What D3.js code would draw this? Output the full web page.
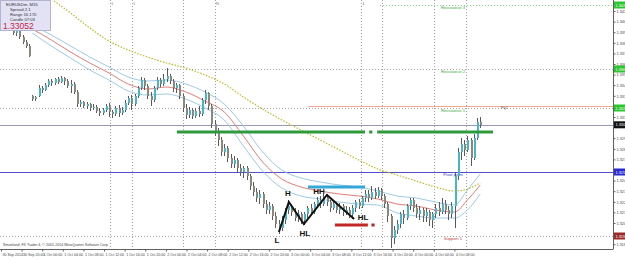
<!DOCTYPE html>
<html>
<head>
<meta charset="utf-8">
<script src="https://cdn.jsdelivr.net/npm/d3@7"></script>
<style>
  body { margin: 0; background: #fff; }
  svg { display: block; font-family: "Liberation Sans", Arial, sans-serif; }
</style>
</head>
<body>
<svg id="chart" width="625" height="260"></svg>
<script>
// EURUSD candles, one per bar
const opens = [
  1.3400,1.3397,1.3399,1.3393,1.3388,1.3384,1.3334,1.3331,1.3334,1.3342,
  1.3340,1.3345,1.3349,1.3347,1.3351,1.3348,1.3352,1.3349,1.3344,1.3346,
  1.3338,1.3326,1.3328,1.3324,1.3326,1.3322,1.3323,1.3319,1.3317,1.3320,
  1.3324,1.3318,1.3316,1.3322,1.3317,1.3320,1.3327,1.3332,1.3326,1.3334,
  1.3342,1.3350,1.3344,1.3334,1.3330,1.3342,1.3350,1.3346,1.3351,1.3354,
  1.3349,1.3342,1.3345,1.3334,1.3322,1.3315,1.3320,1.3314,1.3319,1.3316,
  1.3330,1.3337,1.3324,1.3306,1.3298,1.3290,1.3278,1.3282,1.3272,1.3266,
  1.3270,1.3262,1.3258,1.3262,1.3254,1.3244,1.3238,1.3232,1.3236,1.3226,
  1.3220,1.3224,1.3214,1.3206,1.3202,1.3210,1.3220,1.3224,1.3218,1.3212,
  1.3216,1.3210,1.3216,1.3222,1.3218,1.3226,1.3230,1.3226,1.3232,1.3228,
  1.3222,1.3226,1.3220,1.3224,1.3218,1.3220,1.3216,1.3222,1.3228,1.3224,
  1.3232,1.3236,1.3232,1.3238,1.3234,1.3240,1.3234,1.3226,1.3214,1.3192,
  1.3200,1.3206,1.3216,1.3212,1.3224,1.3230,1.3222,1.3216,1.3220,1.3214,
  1.3218,1.3210,1.3216,1.3222,1.3218,1.3226,1.3220,1.3216,1.3224,1.3254,
  1.3278,1.3286,1.3280,1.3290,1.3272,1.3292,1.3308
];
const highs = [
  1.3402,1.3400,1.3400,1.3395,1.3390,1.3386,1.3335,1.3334,1.3345,1.3344,
  1.3347,1.3351,1.3351,1.3352,1.3353,1.3354,1.3353,1.3351,1.3350,1.3348,
  1.3340,1.3330,1.3329,1.3328,1.3327,1.3326,1.3325,1.3322,1.3322,1.3326,
  1.3327,1.3320,1.3324,1.3325,1.3323,1.3330,1.3334,1.3335,1.3336,1.3344,
  1.3353,1.3352,1.3346,1.3338,1.3344,1.3353,1.3352,1.3356,1.3362,1.3356,
  1.3351,1.3347,1.3346,1.3336,1.3326,1.3323,1.3322,1.3322,1.3324,1.3332,
  1.3340,1.3338,1.3326,1.3310,1.3302,1.3293,1.3286,1.3284,1.3276,1.3274,
  1.3272,1.3266,1.3264,1.3264,1.3256,1.3248,1.3242,1.3240,1.3238,1.3230,
  1.3228,1.3226,1.3218,1.3210,1.3214,1.3222,1.3230,1.3226,1.3222,1.3220,
  1.3218,1.3218,1.3224,1.3226,1.3228,1.3233,1.3234,1.3236,1.3236,1.3230,
  1.3229,1.3228,1.3227,1.3226,1.3224,1.3223,1.3225,1.3230,1.3231,1.3234,
  1.3240,1.3240,1.3244,1.3242,1.3243,1.3242,1.3236,1.3228,1.3216,1.3204,
  1.3210,1.3218,1.3220,1.3226,1.3232,1.3232,1.3226,1.3224,1.3222,1.3222,
  1.3220,1.3218,1.3226,1.3228,1.3232,1.3230,1.3224,1.3228,1.3258,1.3282,
  1.3292,1.3290,1.3294,1.3292,1.3296,1.3312,1.3313
];
const lows = [
  1.3395,1.3394,1.3391,1.3386,1.3382,1.3373,1.3329,1.3329,1.3333,1.3337,
  1.3339,1.3343,1.3344,1.3345,1.3346,1.3347,1.3345,1.3342,1.3337,1.3336,
  1.3323,1.3323,1.3322,1.3321,1.3319,1.3320,1.3317,1.3314,1.3315,1.3318,
  1.3313,1.3312,1.3314,1.3313,1.3315,1.3318,1.3325,1.3320,1.3324,1.3332,
  1.3340,1.3340,1.3331,1.3324,1.3328,1.3340,1.3343,1.3344,1.3348,1.3346,
  1.3338,1.3337,1.3331,1.3318,1.3311,1.3312,1.3311,1.3312,1.3313,1.3314,
  1.3326,1.3320,1.3302,1.3294,1.3284,1.3274,1.3274,1.3268,1.3262,1.3262,
  1.3258,1.3254,1.3252,1.3250,1.3240,1.3234,1.3228,1.3226,1.3222,1.3216,
  1.3216,1.3210,1.3202,1.3196,1.3199,1.3206,1.3216,1.3214,1.3209,1.3208,
  1.3206,1.3205,1.3212,1.3215,1.3216,1.3222,1.3222,1.3224,1.3224,1.3218,
  1.3220,1.3217,1.3216,1.3214,1.3215,1.3212,1.3211,1.3218,1.3221,1.3222,
  1.3228,1.3228,1.3230,1.3231,1.3232,1.3230,1.3222,1.3208,1.3182,1.3186,
  1.3196,1.3202,1.3206,1.3210,1.3220,1.3218,1.3212,1.3210,1.3208,1.3208,
  1.3204,1.3202,1.3212,1.3214,1.3216,1.3216,1.3210,1.3212,1.3202,1.3250,
  1.3270,1.3274,1.3278,1.3264,1.3270,1.3290,1.3302
];
const closes = [
  1.3397,1.3399,1.3393,1.3388,1.3384,1.3374,1.3331,1.3333,1.3342,1.3340,
  1.3345,1.3349,1.3347,1.3351,1.3348,1.3352,1.3349,1.3344,1.3346,1.3338,
  1.3326,1.3328,1.3324,1.3326,1.3322,1.3323,1.3319,1.3317,1.3320,1.3324,
  1.3318,1.3316,1.3322,1.3317,1.3320,1.3327,1.3332,1.3326,1.3334,1.3342,
  1.3350,1.3344,1.3334,1.3330,1.3342,1.3350,1.3346,1.3351,1.3354,1.3349,
  1.3342,1.3345,1.3334,1.3322,1.3315,1.3320,1.3314,1.3319,1.3316,1.3330,
  1.3337,1.3324,1.3306,1.3298,1.3290,1.3278,1.3282,1.3272,1.3266,1.3270,
  1.3262,1.3258,1.3262,1.3254,1.3244,1.3238,1.3232,1.3236,1.3226,1.3220,
  1.3224,1.3214,1.3206,1.3202,1.3210,1.3220,1.3224,1.3218,1.3212,1.3216,
  1.3210,1.3216,1.3222,1.3218,1.3226,1.3230,1.3226,1.3232,1.3228,1.3222,
  1.3226,1.3220,1.3224,1.3218,1.3220,1.3216,1.3222,1.3228,1.3224,1.3232,
  1.3236,1.3232,1.3238,1.3234,1.3240,1.3234,1.3226,1.3214,1.3192,1.3200,
  1.3206,1.3216,1.3212,1.3224,1.3230,1.3222,1.3216,1.3220,1.3214,1.3218,
  1.3210,1.3216,1.3222,1.3218,1.3226,1.3220,1.3216,1.3224,1.3254,1.3278,
  1.3286,1.3280,1.3290,1.3272,1.3292,1.3308,1.33052
];

// envelope (upper / middle / lower) and slow MA, sampled at bar indices
const maIdx = [6,12,18,24,30,36,42,48,54,60,66,72,78,84,90,96,102,108,114,120,126,132,138,142,146];
const bandUpper = [1.3405,1.3395,1.3384,1.3373,1.3363,1.3353,1.3349,1.3350,1.3346,1.3338,1.3326,1.3304,1.3278,
  1.3260,1.3252,1.3248,1.3245,1.3243,1.3239,1.3234,1.3232,1.3228,1.3225,1.3240,1.3256];
const bandMid = [1.3401,1.3390,1.3378,1.3367,1.3357,1.3346,1.3341,1.3343,1.3338,1.3329,1.3318,1.3294,1.3268,
  1.3251,1.3243,1.3239,1.3236,1.3234,1.3231,1.3226,1.3224,1.3220,1.3218,1.3230,1.3245];
const bandLower = [1.3397,1.3384,1.3372,1.3360,1.3350,1.3339,1.3335,1.3336,1.3331,1.3322,1.3310,1.3284,1.3259,
  1.3242,1.3234,1.3231,1.3228,1.3226,1.3225,1.3217,1.3214,1.3212,1.3212,1.3220,1.3236];
const slowMa = [1.3445,1.3431,1.3417,1.3402,1.3389,1.3380,1.3373,1.3367,1.3362,1.3355,1.3346,1.3333,1.3321,
  1.3310,1.3300,1.3290,1.3280,1.3270,1.3261,1.3255,1.3249,1.3243,1.3239,1.3241,1.3247];

// price scale labels (those hidden under the coloured tags are left out)
const priceTicks = [1.34190,1.34084,1.33978,1.33872,1.33766,1.33660,1.33554,1.33448,1.33342,1.33236,1.33130,
  1.32918,1.32812,1.32706,1.32494,1.32388,1.32282,1.32176,1.32070,1.31858];
const timeLabels = ["30 Sep 2014","30 Sep 20:00","1 Oct 00:00","1 Oct 04:00","1 Oct 08:00","1 Oct 12:00",
  "1 Oct 16:00","1 Oct 20:00","2 Oct 00:00","2 Oct 04:00","2 Oct 08:00","2 Oct 12:00","2 Oct 16:00",
  "2 Oct 20:00","3 Oct 00:00","3 Oct 04:00","3 Oct 08:00","3 Oct 12:00","3 Oct 16:00","3 Oct 20:00",
  "4 Oct 00:00","4 Oct 04:00","4 Oct 08:00"];

// pivot levels of the day
const pivotNames = ["Resistance 3","Resistance 2","Resistance 1","Pivot point","Support 1"];
const pivotPrices = [1.3425,1.3361,1.3322,1.3258,1.3194];
const bidPrice = 1.33052;
const fiboPrice = 1.3324;

// separators (bar index) and their captions
const sepIdx = [30.3,37.2,53.1,63.1,108.8,115.3,131.6,141.6];
const sepCaptions = ["1","1","","N","1","","",""];

// hand-drawn swing structure
const swingIdx = [83.1,86.2,90.9,98.1,106.6];
const swingPrice = [1.3198,1.3228,1.3206,1.3235,1.3211];
const swingText = ["L","H","HL","HH","HL"];

// drawn level segments [fromIdx, toIdx, price]
const greenLevels = [[51.2,110,1.3298],[111.3,112.3,1.3298],[113.8,150,1.3298]];
const blueLevels = [[92.2,110,1.3243]];
const redLevels = [[100.6,110.9,1.3205],[112,113,1.3205]];

const width = 613, height = 249;
const svg = d3.select("#chart");

const x = d3.scaleLinear().domain([0, 146]).range([13, 480.2]);
const y = d3.scaleLinear().domain([1.3430, 1.3181]).range([0, height]);

svg.append("defs").append("clipPath").attr("id", "clip")
  .append("rect").attr("width", width).attr("height", height);
const plot = svg.append("g").attr("clip-path", "url(#clip)");

// vertical separators
plot.selectAll(".sep").data(sepIdx).enter().append("line")
  .attr("x1", d => Math.round(x(d)) + 0.5).attr("x2", d => Math.round(x(d)) + 0.5)
  .attr("y1", 0).attr("y2", height)
  .attr("stroke", "#a0a0a0").attr("stroke-dasharray", "1,2");
plot.selectAll(".cap").data(sepIdx).enter().append("text")
  .attr("x", d => x(d) + 1).attr("y", 5)
  .attr("font-size", 4).attr("fill", "#777")
  .text((d, i) => sepCaptions[i]);

// full width pivot grid (dotted)
[1, 2, 4].forEach(function(k) {
  plot.append("line")
    .attr("x1", 0).attr("x2", width)
    .attr("y1", Math.round(y(pivotPrices[k])) + 0.5).attr("y2", Math.round(y(pivotPrices[k])) + 0.5)
    .attr("stroke", "#a8a8a8").attr("stroke-dasharray", "1,2");
});
// R3 only for today
plot.append("line")
  .attr("x1", x(114.7)).attr("x2", width)
  .attr("y1", Math.round(y(pivotPrices[0])) + 0.5).attr("y2", Math.round(y(pivotPrices[0])) + 0.5)
  .attr("stroke", "#7fd27f").attr("stroke-dasharray", "1,2");

// fibo level
plot.append("line")
  .attr("x1", x(92.2)).attr("x2", width)
  .attr("y1", Math.round(y(fiboPrice)) + 0.5).attr("y2", Math.round(y(fiboPrice)) + 0.5)
  .attr("stroke", "#f0a894");
plot.append("text").attr("x", x(152.5)).attr("y", y(fiboPrice) + 3)
  .attr("font-size", 4).attr("fill", "#666").text("Fg1");

// bid line and pivot line
plot.append("line")
  .attr("x1", 0).attr("x2", width)
  .attr("y1", Math.round(y(bidPrice)) + 0.5).attr("y2", Math.round(y(bidPrice)) + 0.5)
  .attr("stroke", "#9a9ab8");
plot.append("line")
  .attr("x1", 0).attr("x2", width)
  .attr("y1", Math.round(y(pivotPrices[3])) + 0.5).attr("y2", Math.round(y(pivotPrices[3])) + 0.5)
  .attr("stroke", "#5050c8");

// pivot captions
const pivotColors = ["#3aa83a","#3aa83a","#3aa83a","#3b3bd0","#c83c3c"];
plot.selectAll(".pvt").data(pivotNames).enter().append("text")
  .attr("x", x(137.5)).attr("y", (d, i) => y(pivotPrices[i]) + 3.5)
  .attr("text-anchor", "middle").attr("font-size", 4.2)
  .attr("fill", (d, i) => pivotColors[i]).text(d => d);

// slow moving average (dotted)
const maLine = d3.line().curve(d3.curveMonotoneX)
  .x((d, i) => x(maIdx[i])).y(d => y(d));
plot.append("path").datum(slowMa).attr("d", maLine)
  .attr("fill", "none").attr("stroke", "#bdb824").attr("stroke-width", 1.2)
  .attr("stroke-dasharray", "1.5,1.5");

// envelope
plot.append("path").datum(bandUpper).attr("d", maLine)
  .attr("fill", "none").attr("stroke", "#9ccbe6");
plot.append("path").datum(bandLower).attr("d", maLine)
  .attr("fill", "none").attr("stroke", "#9ccbe6");
plot.append("path").datum(bandMid).attr("d", maLine)
  .attr("fill", "none").attr("stroke", "#e27d76");

// candles
const bars = d3.range(opens.length);
plot.selectAll(".wick").data(bars).enter().append("line")
  .attr("x1", i => Math.round(x(i)) + 0.5).attr("x2", i => Math.round(x(i)) + 0.5)
  .attr("y1", i => y(highs[i])).attr("y2", i => y(lows[i]))
  .attr("stroke", "#5a5a5a");
plot.selectAll(".body").data(bars).enter().append("rect")
  .attr("x", i => Math.round(x(i)) - 0.5)
  .attr("y", i => y(Math.max(opens[i], closes[i])))
  .attr("width", 2)
  .attr("height", i => Math.max(1, Math.abs(y(opens[i]) - y(closes[i]))))
  .attr("fill", i => closes[i] >= opens[i] ? "#46b6c8" : "#8c877c")
  .attr("shape-rendering", "crispEdges");

// level segments
function segments(list, color, w) {
  plot.selectAll(null).data(list).enter().append("line")
    .attr("x1", d => x(d[0])).attr("x2", d => x(d[1]))
    .attr("y1", d => y(d[2])).attr("y2", d => y(d[2]))
    .attr("stroke", color).attr("stroke-width", w);
}
segments(greenLevels, "#2f9a3c", 3);
segments(blueLevels, "#35a6d8", 3);
segments(redLevels, "#c42626", 3);

// swing zigzag
const zig = d3.line().x((d, i) => x(swingIdx[i])).y(d => y(d));
plot.append("path").datum(swingPrice).attr("d", zig)
  .attr("fill", "none").attr("stroke", "#111").attr("stroke-width", 2)
  .attr("stroke-linejoin", "miter");
const swingOff = [[-2, 11], [-1, -6], [1, 12], [-8, -1], [9, 1]];
plot.selectAll(".sw").data(swingText).enter().append("text")
  .attr("x", (d, i) => x(swingIdx[i]) + swingOff[i][0])
  .attr("y", (d, i) => y(swingPrice[i]) + swingOff[i][1])
  .attr("text-anchor", "middle").attr("font-size", 8).attr("font-weight", "bold")
  .attr("fill", "#111").text(d => d);

// copyright
svg.append("text").attr("x", 3).attr("y", 246)
  .attr("font-size", 3.6).attr("fill", "#444")
  .text("Smartland, FX Trader 4, \u00a9 2001-2014 MetaQuotes Software Corp.");

// price axis
const yAxis = svg.append("g")
  .attr("transform", "translate(" + (width + 0.5) + ",0)")
  .call(d3.axisRight(y).tickValues(priceTicks).tickFormat(d3.format(".5f")).tickSize(2).tickPadding(1));
yAxis.select(".domain").attr("d", "M0,0V" + height).attr("stroke", "#606060");
yAxis.selectAll("line").attr("stroke", "#606060");
yAxis.selectAll("text").attr("font-size", 3.8).attr("fill", "#444");

// time axis
const timeIdx = timeLabels.map((d, k) => -3.75 + 6.44 * k);
const xAxis = svg.append("g")
  .attr("transform", "translate(0," + (height + 0.5) + ")")
  .call(d3.axisBottom(x).tickValues(timeIdx).tickFormat((d, i) => timeLabels[i]).tickSize(2));
xAxis.select(".domain").attr("d", "M0,0H" + (width + 0.5)).attr("stroke", "#606060");
xAxis.selectAll("line").attr("stroke", "#606060");
xAxis.selectAll("text").attr("font-size", 3.6).attr("fill", "#444")
  .attr("text-anchor", "start").attr("x", 1).attr("y", 3.5);

// highlighted price labels on the scale
const tags = [
  { p: pivotPrices[0], bg: "#2dc42d", fg: "#fff" },
  { p: pivotPrices[1], bg: "#2dc42d", fg: "#fff" },
  { p: pivotPrices[2], bg: "#2dc42d", fg: "#fff" },
  { p: bidPrice, bg: "#111", fg: "#fff" },
  { p: pivotPrices[3], bg: "#2a2ad0", fg: "#fff" },
  { p: pivotPrices[4], bg: "#9a2a2a", fg: "#fff" }
];
const tag = svg.selectAll(".tag").data(tags).enter().append("g")
  .attr("transform", d => "translate(" + (width + 1) + "," + y(d.p) + ")");
tag.append("rect").attr("x", 0).attr("y", -3.5).attr("width", 12).attr("height", 7)
  .attr("fill", d => d.bg);
tag.append("text").attr("x", 1.5).attr("y", 1.5).attr("font-size", 3.8)
  .attr("fill", d => d.fg).text(d => d3.format(".5f")(d.p));

// info panel
const info = svg.append("g");
info.append("rect").attr("x", 0.5).attr("y", 0.5).attr("width", 50).attr("height", 30)
  .attr("fill", "#e2e2f4").attr("stroke", "#b4b4d0");
const infoLines = ["EURUSDm, M15", "Spread  2.1", "Range  16.170", "Candle  07:03"];
info.selectAll(".il").data(infoLines).enter().append("text")
  .attr("x", (d, i) => i === 0 ? 6 : 10).attr("y", (d, i) => 6 + i * 5)
  .attr("font-size", 4.2).attr("fill", "#333").text(d => d);
info.append("text").attr("x", 3).attr("y", 28.5)
  .attr("font-size", 8.5).attr("fill", "#c8254a").text(d3.format(".5f")(bidPrice));
</script>
</body>
</html>
